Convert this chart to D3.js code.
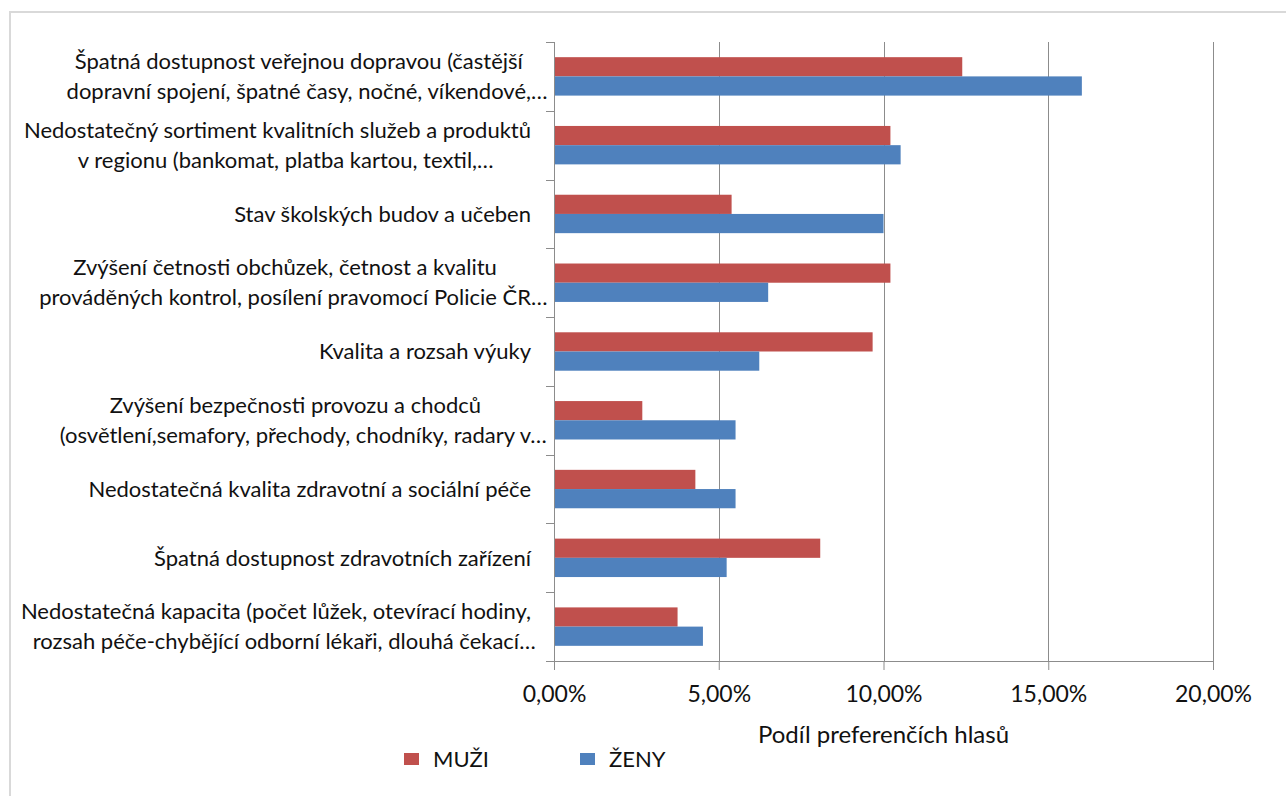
<!DOCTYPE html>
<html>
<head>
<meta charset="utf-8">
<script src="https://cdn.jsdelivr.net/npm/d3@7"></script>
<style>
  html, body { margin: 0; padding: 0; background: #ffffff; }
  svg { display: block; }
  text { font-family: Lato, "Open Sans", sans-serif; fill: #111; }
</style>
</head>
<body>
<svg id="chart" width="1286" height="796"></svg>
<script>
// ---- data ----
const categories = [
  "Špatná dostupnost veřejnou dopravou",
  "Nedostatečný sortiment kvalitních služeb a produktů",
  "Stav školských budov a učeben",
  "Zvýšení četnosti obchůzek",
  "Kvalita a rozsah výuky",
  "Zvýšení bezpečnosti provozu a chodců",
  "Nedostatečná kvalita zdravotní a sociální péče",
  "Špatná dostupnost zdravotních zařízení",
  "Nedostatečná kapacita"
];
const categoryLines = [
  ["Špatná dostupnost veřejnou dopravou (častější", "dopravní spojení, špatné časy, nočné, víkendové,…"],
  ["Nedostatečný sortiment kvalitních služeb a produktů", "v regionu (bankomat, platba kartou, textil,…"],
  ["Stav školských budov a učeben"],
  ["Zvýšení četnosti obchůzek, četnost a kvalitu", "prováděných kontrol, posílení pravomocí Policie ČR…"],
  ["Kvalita a rozsah výuky"],
  ["Zvýšení bezpečnosti provozu a chodců", "(osvětlení,semafory, přechody, chodníky, radary v…"],
  ["Nedostatečná kvalita zdravotní a sociální péče"],
  ["Špatná dostupnost zdravotních zařízení"],
  ["Nedostatečná kapacita (počet lůžek, otevírací hodiny,", "rozsah péče-chybějící odborní lékaři, dlouhá čekací…"]
];
const seriesNames = ["MUŽI", "ŽENY"];
const muzi = [0.1239, 0.1021, 0.0539, 0.1021, 0.0967, 0.0268, 0.0429, 0.0808, 0.0375];
const zeny = [0.1602, 0.1052, 0.1000, 0.0650, 0.0623, 0.0551, 0.0551, 0.0524, 0.0452];
const seriesColors = ["#C0504D", "#4F81BD"];
const xTicks = [0, 0.05, 0.10, 0.15, 0.20];
const xTitle = "Podíl preferenčích hlasů";

// ---- chart ----
const svg = d3.select("#chart");
const locale = d3.formatLocale({decimal: ",", thousands: " ", grouping: [3], currency: ["", " Kč"]});
const fmt = locale.format(".2%");

const plotLeft = 554, plotRight = 1213, plotTop = 42, plotBottom = 661;
const x = d3.scaleLinear().domain([0, 0.20]).range([plotLeft, plotRight]);
const y = d3.scaleBand().domain(categories).range([plotTop, plotBottom]).padding(0);
const ys = d3.scaleBand().domain(seriesNames).range([0, y.bandwidth()]).paddingInner(0).paddingOuter(0.79);

// outer border
svg.append("rect").attr("x", 10).attr("y", 12).attr("width", 1300).attr("height", 800)
  .attr("fill", "none").attr("stroke", "#d9d9d9").attr("stroke-width", 2);

// gridlines
svg.append("g").selectAll("line").data(xTicks.slice(1)).join("line")
  .attr("x1", d => Math.round(x(d)) + 0.5).attr("x2", d => Math.round(x(d)) + 0.5)
  .attr("y1", plotTop).attr("y2", plotBottom)
  .attr("stroke", "#8c8c8c").attr("stroke-width", 1);

// bars
const seriesData = [muzi, zeny];
seriesNames.forEach((s, si) => {
  svg.append("g").selectAll("rect").data(categories).join("rect")
    .attr("x", x(0))
    .attr("y", c => y(c) + ys(s))
    .attr("width", (c, i) => x(seriesData[si][i]) - x(0))
    .attr("height", ys.bandwidth())
    .attr("fill", seriesColors[si]);
});

// x axis
const xAxis = svg.append("g").attr("transform", `translate(0,${plotBottom})`)
  .call(d3.axisBottom(x).tickValues(xTicks).tickSizeInner(9).tickSizeOuter(0).tickFormat(fmt));
xAxis.select(".domain").attr("stroke", "#8c8c8c");
xAxis.selectAll(".tick line").attr("stroke", "#8c8c8c");
xAxis.selectAll(".tick text").attr("y", 33).attr("dy", "0.35em")
  .style("font-size", "23px").style("font-family", "Lato, sans-serif").attr("fill", "#111");

// y axis line and boundary ticks
svg.append("line").attr("x1", plotLeft + 0.5).attr("x2", plotLeft + 0.5).attr("y1", plotTop).attr("y2", plotBottom)
  .attr("stroke", "#8c8c8c");
const bounds = categories.map(c => y(c)).concat([y.range()[1]]);
svg.append("g").selectAll("line").data(bounds).join("line")
  .attr("x1", plotLeft - 8).attr("x2", plotLeft)
  .attr("y1", d => Math.round(d) + 0.5).attr("y2", d => Math.round(d) + 0.5)
  .attr("stroke", "#8c8c8c");

// category labels
const labelRight = 531, lineGap = 30, labelFont = 22;
const lg = svg.append("g").style("font-size", labelFont + "px");
categories.forEach((c, i) => {
  const lines = categoryLines[i];
  const cy = y(c) + y.bandwidth() / 2;
  const texts = lines.map((ln, k) => {
    const core = ln.endsWith("…") ? ln.slice(0, -1) : ln;
    const t = lg.append("text").text(core)
      .attr("y", cy + (k - (lines.length - 1) / 2) * lineGap)
      .attr("dy", "0.35em");
    const w = t.node().getComputedTextLength();
    return {t, w, ln};
  });
  const maxW = d3.max(texts, d => d.w);
  const center = labelRight - maxW / 2;
  texts.forEach(d => {
    d.t.attr("x", center - d.w / 2).text(d.ln);
  });
});

// axis title
svg.append("text").attr("x", (plotLeft + plotRight) / 2).attr("y", 735).attr("dy", "0.35em")
  .attr("text-anchor", "middle").style("font-size", "24px").text(xTitle);

// legend
const legendX = [404, 580];
const lgd = svg.append("g");
seriesNames.forEach((s, i) => {
  lgd.append("rect").attr("x", legendX[i]).attr("y", 753).attr("width", 15).attr("height", 12)
    .attr("fill", seriesColors[i]);
  lgd.append("text").attr("x", legendX[i] + 29).attr("y", 759).attr("dy", "0.35em")
    .style("font-size", "22px").text(s);
});
</script>
</body>
</html>
